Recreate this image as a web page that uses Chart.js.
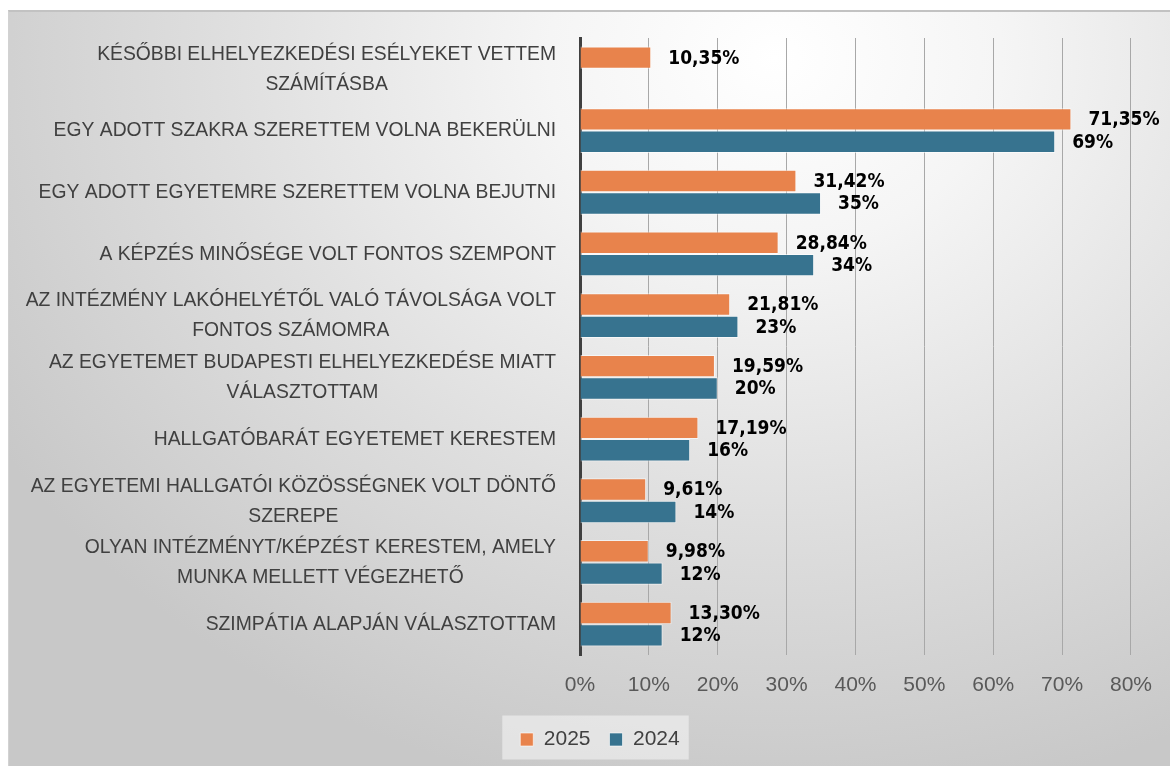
<!DOCTYPE html>
<html>
<head>
<meta charset="utf-8">
<script src="https://cdn.jsdelivr.net/npm/chart.js@4"></script>
<style>
  html, body { margin: 0; padding: 0; background: #fff; overflow: hidden; }
  #wrap {
    position: absolute; left: 8px; top: 10px;
    width: 1161px; height: 754px;
    border-top: 2px solid #c2c2c2; border-left: 1px solid #d2d2d2;
    background: radial-gradient(ellipse 78% 100% at 66% 6%, #ffffff 0%, #f5f5f5 25%, #dedede 62%, #c8c8c8 100%);
  }
</style>
</head>
<body>
<div id="wrap"><canvas id="myChart" width="1161" height="754"></canvas></div>
<script>
// adatok
const categories = [
  ['KÉSŐBBI ELHELYEZKEDÉSI ESÉLYEKET VETTEM', 'SZÁMÍTÁSBA'],
  ['EGY ADOTT SZAKRA SZERETTEM VOLNA BEKERÜLNI'],
  ['EGY ADOTT EGYETEMRE SZERETTEM VOLNA BEJUTNI'],
  ['A KÉPZÉS MINŐSÉGE VOLT FONTOS SZEMPONT'],
  ['AZ INTÉZMÉNY LAKÓHELYÉTŐL VALÓ TÁVOLSÁGA VOLT', 'FONTOS SZÁMOMRA'],
  ['AZ EGYETEMET BUDAPESTI ELHELYEZKEDÉSE MIATT', 'VÁLASZTOTTAM'],
  ['HALLGATÓBARÁT EGYETEMET KERESTEM'],
  ['AZ EGYETEMI HALLGATÓI KÖZÖSSÉGNEK VOLT DÖNTŐ', 'SZEREPE'],
  ['OLYAN INTÉZMÉNYT/KÉPZÉST KERESTEM, AMELY', 'MUNKA MELLETT VÉGEZHETŐ'],
  ['SZIMPÁTIA ALAPJÁN VÁLASZTOTTAM']
];
const series = ['2025', '2024'];
const values2025 = [10.35, 71.35, 31.42, 28.84, 21.81, 19.59, 17.19, 9.61, 9.98, 13.30];
const values2024 = [null, 69, 35, 34, 23, 20, 16, 14, 12, 12];
const xTicks = [0, 10, 20, 30, 40, 50, 60, 70, 80];

const sans = "'Liberation Sans', Arial, sans-serif";
const orange = '#E8834C';
const blue = '#37738F';
const SX = 0.92; // keskenyítés, mert nincs Narrow betűtípus

// kategória feliratok: a blokk jobbra igazítva, a sorok egymáshoz képest középre
const catLabels = {
  id: 'catLabels',
  afterDraw(chart) {
    const ctx = chart.ctx;
    const y = chart.scales.y;
    const right = chart.chartArea.left - 24;
    ctx.save();
    ctx.font = '21px ' + sans;
    ctx.fillStyle = '#404040';
    ctx.textBaseline = 'middle';
    ctx.textAlign = 'center';
    categories.forEach((lines, i) => {
      const cy = y.getPixelForValue(i);
      const lh = 30;
      const w = Math.max(...lines.map(l => ctx.measureText(l).width)) * SX;
      const cx = right - w / 2;
      const top = cy - (lines.length - 1) * lh / 2;
      lines.forEach((line, j) => {
        ctx.save();
        ctx.translate(cx, top + j * lh);
        ctx.scale(SX, 1);
        ctx.fillText(line, 0, 0);
        ctx.restore();
      });
    });
    ctx.restore();
  }
};

// érték feliratok a sávok végén
const valueLabels = {
  id: 'valueLabels',
  afterDatasetsDraw(chart) {
    const ctx = chart.ctx;
    ctx.save();
    ctx.font = "bold 19px 'DejaVu Sans Condensed', 'DejaVu Sans', sans-serif";
    ctx.fillStyle = '#000';
    ctx.textAlign = 'left';
    ctx.textBaseline = 'middle';
    chart.data.datasets.forEach((ds, di) => {
      const meta = chart.getDatasetMeta(di);
      meta.data.forEach((bar, i) => {
        const v = ds.data[i];
        if (v == null) return;
        const txt = v.toFixed(ds.decimals).replace('.', ',') + '%';
        ctx.fillText(txt, bar.x + 17, bar.y + 1);
      });
    });
    ctx.restore();
  }
};

// világos doboz a jelmagyarázat mögött
const legendBg = {
  id: 'legendBg',
  beforeDraw(chart) {
    const lg = chart.legend;
    if (!lg || !lg.legendHitBoxes || !lg.legendHitBoxes.length) return;
    const hb = lg.legendHitBoxes;
    const l = Math.min(...hb.map(h => h.left)) - 18;
    const r = Math.max(...hb.map(h => h.left + h.width)) + 9;
    const cy = hb[0].top + hb[0].height / 2;
    const ctx = chart.ctx;
    ctx.save();
    ctx.fillStyle = 'rgba(248,248,248,0.55)';
    ctx.fillRect(l, cy - 24, r - l, 44);
    ctx.restore();
  }
};

const ctx = document.getElementById('myChart').getContext('2d');
const myChart = new Chart(ctx, {
  type: 'bar',
  data: {
    labels: categories.map(c => c.join(' ')),
    datasets: [
      {
        label: series[0],
        data: values2025,
        decimals: 2,
        backgroundColor: orange,
        borderColor: 'rgba(255,255,255,0.6)',
        borderWidth: 1,
        categoryPercentage: 0.726,
        barPercentage: 1
      },
      {
        label: series[1],
        data: values2024,
        decimals: 0,
        backgroundColor: blue,
        borderColor: 'rgba(255,255,255,0.6)',
        borderWidth: 1,
        categoryPercentage: 0.726,
        barPercentage: 1
      }
    ]
  },
  options: {
    indexAxis: 'y',
    responsive: false,
    animation: false,
    layout: { padding: { top: 26, right: 39, bottom: 6, left: 60 } },
    scales: {
      x: {
        min: 0,
        max: 80,
        afterBuildTicks: s => { s.ticks = xTicks.map(v => ({ value: v })); },
        afterFit: s => { s.height = 55; },
        ticks: {
          callback: v => v + '%',
          color: '#595959',
          font: { family: sans, size: 21 },
          padding: 18,
          maxRotation: 0
        },
        grid: {
          color: c => (c.tick && c.tick.value === 0) ? 'rgba(0,0,0,0)' : '#a8a8a8',
          lineWidth: 1,
          drawTicks: false
        },
        border: { display: false }
      },
      y: {
        afterFit: s => { s.width = 511; },
        ticks: { display: false },
        grid: { display: false },
        border: { display: true, color: '#404040', width: 3 }
      }
    },
    plugins: {
      legend: {
        position: 'bottom',
        labels: {
          boxWidth: 13,
          boxHeight: 13,
          color: '#404040',
          font: { family: sans, size: 21 },
          padding: 19
        }
      },
      tooltip: { enabled: false }
    }
  },
  plugins: [catLabels, valueLabels, legendBg]
});
</script>
</body>
</html>
